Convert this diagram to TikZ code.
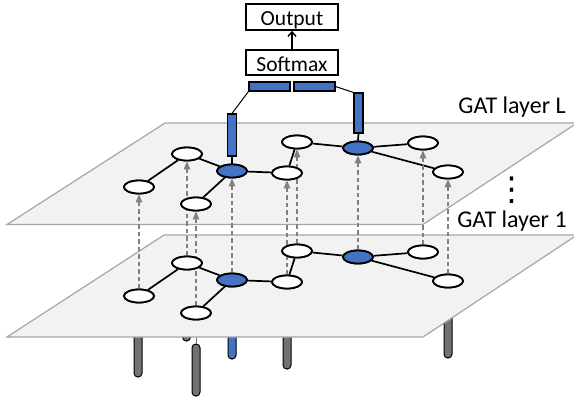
\documentclass[tikz,border=0pt]{standalone}
\usepackage{fontspec}
\setmainfont{Carlito}
\newfontfamily\symfont{DejaVu Sans}
\usetikzlibrary{arrows.meta,shapes.geometric}
\definecolor{nblue}{HTML}{4472C4}
\definecolor{pfill}{HTML}{F2F2F2}
\definecolor{pline}{HTML}{A6A6A6}
\definecolor{pgray}{HTML}{767171}
\definecolor{dgray}{HTML}{808080}
\tikzset{
  gnode/.style={ellipse, draw=black, line width=1.8pt, fill=white, minimum width=30pt, minimum height=13pt, inner sep=0pt},
  bnode/.style={gnode, fill=nblue},
  gedge/.style={line width=1.7pt},
  flow/.style={draw=dgray, line width=1.4pt, dash pattern=on 4.5pt off 3pt, -{Triangle[length=8pt,width=6.5pt]}},
  plane/.style={fill=pfill, draw=pline, line width=1.2pt},
  pillar/.style={rectangle, rounded corners=3.8pt, draw=black, line width=1pt, fill=pgray, minimum width=8pt, inner sep=0pt},
  bluepillar/.style={pillar, fill=nblue},
  featbar/.style={rectangle, draw=black, line width=1.1pt, fill=nblue, inner sep=0pt},
  boxnode/.style={rectangle, draw=black, line width=1.6pt, minimum width=92pt, inner sep=0pt, text height=17pt, text depth=0pt, font=\fontsize{21.5}{24}\selectfont},
  layertext/.style={anchor=base, inner sep=0pt, font=\fontsize{24}{28}\selectfont},
}
\begin{document}
\begin{tikzpicture}[x=1pt,y=-1pt]
\useasboundingbox (0,0) rectangle (574,400);

% pillars hanging below the lower plane
\coordinate (cstub) at (196,330);
\node[pillar, minimum height=77pt] (pB) at (138,338.5) {};
\node[pillar, minimum height=41pt] (pA) at (186.5,320.5) {};
\node[pillar, minimum height=52pt] (pC) at (196,370) {};
\draw[pgray, line width=0.9pt] (cstub) -- (pC.north);
\node[bluepillar, minimum height=59pt] (pD) at (232,329.5) {};
\node[pillar, minimum height=69pt] (pE) at (287,334.5) {};
\node[pillar, minimum height=53pt] (pI) at (448,331.5) {};

% planes
\draw[plane] (164,235) -- (577,235) -- (423,337) -- (7,337) -- cycle;
\draw[plane] (165,123) -- (577,123) -- (423,224.5) -- (7,224.5) -- cycle;

% layer 1 nodes
\node[gnode] (a1) at (187,263) {};
\node[gnode] (b1) at (139,296) {};
\node[gnode] (c1) at (196,313) {};
\node[bnode] (d1) at (232,280) {};
\node[gnode] (e1) at (287,282) {};
\node[gnode] (f1) at (297,251) {};
\node[bnode] (g1) at (358,257) {};
\node[gnode] (h1) at (423,252) {};
\node[gnode] (i1) at (448,281) {};
% layer L nodes
\node[gnode] (aL) at (187,154) {};
\node[gnode] (bL) at (139,187) {};
\node[gnode] (cL) at (196,204) {};
\node[bnode] (dL) at (232,171) {};
\node[gnode] (eL) at (287,173) {};
\node[gnode] (fL) at (297,142) {};
\node[bnode] (gL) at (358,148) {};
\node[gnode] (hL) at (423,143) {};
\node[gnode] (iL) at (448,172) {};

% edges
\foreach \l in {1,L}{
  \draw[gedge] (a\l) -- (b\l);
  \draw[gedge] (a\l) -- (d\l);
  \draw[gedge] (d\l) -- (c\l);
  \draw[gedge] (d\l) -- (e\l);
  \draw[gedge] (e\l) -- (f\l);
  \draw[gedge] (f\l) -- (g\l);
  \draw[gedge] (g\l) -- (h\l);
  \draw[gedge] (g\l) -- (i\l);
}

% dashed flows between layers
\foreach \n in {a,b,c,d,e,f,g,h,i}{
  \draw[flow] (\n1.north) -- (\n L.south);
}

% redraw nodes on top of the flows
\foreach \n/\s in {a/gnode,b/gnode,c/gnode,d/bnode,e/gnode,f/gnode,g/bnode,h/gnode,i/gnode}{
  \node[\s] at (\n1) {};
  \node[\s] at (\n L) {};
}

% feature bars
\node[featbar, minimum width=9pt, minimum height=42pt] (vb1) at (232,135) {};
\node[featbar, minimum width=9pt, minimum height=40pt] (vb2) at (358.5,113) {};
\draw[gedge] (vb1.south) -- (dL.north);
\draw[gedge] (vb2.south) -- (gL.north);
\node[featbar, minimum width=41pt, minimum height=9pt] (hb1) at (269.5,86.5) {};
\node[featbar, minimum width=41pt, minimum height=9pt] (hb2) at (314.5,86.5) {};
\draw[line width=1pt] (hb1.south west) -- (vb1.north);
\draw[line width=1pt] (hb2.east) -- (vb2.north west);

% softmax and output
\node[boxnode, minimum height=25pt] (soft) at (292,62.5) {Softmax};
\node[boxnode, minimum height=26pt] (out) at (292,17) {Output};
\draw[line width=1.4pt, -{Straight Barb[length=4.5pt,width=8pt]}] (soft.north) -- (out.south);

% labels
\node[layertext] (lblL) at (512,113) {GAT layer L};
\node[layertext] (lbl1) at (512,227) {GAT layer 1};
\node[inner sep=0pt, font=\symfont\fontsize{33}{36}\selectfont] (dots) at (512,190) {⋮};
\end{tikzpicture}
\end{document}
